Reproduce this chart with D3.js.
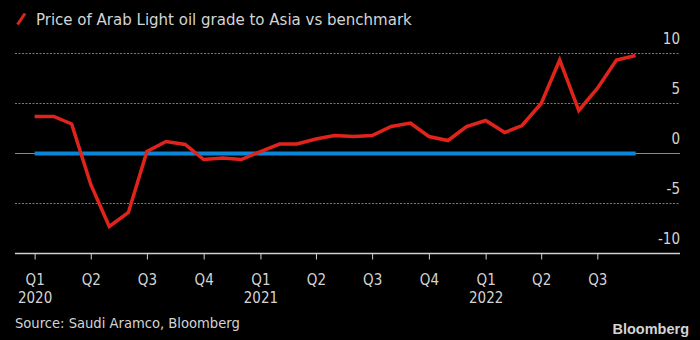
<!DOCTYPE html>
<html>
<head>
<meta charset="utf-8">
<script src="https://cdn.jsdelivr.net/npm/d3@7"></script>
<style>
  body { margin: 0; background: #000; }
  svg { display: block; background: #000; }
  text { font-family: "DejaVu Sans Condensed", "Liberation Sans Narrow", sans-serif; fill: #d4d4d4; }
</style>
</head>
<body>
<script>
// chart data, monthly Jan 2020 - Sep 2022
var months = ["2020-01","2020-02","2020-03","2020-04","2020-05","2020-06","2020-07","2020-08","2020-09","2020-10","2020-11","2020-12",
              "2021-01","2021-02","2021-03","2021-04","2021-05","2021-06","2021-07","2021-08","2021-09","2021-10","2021-11","2021-12",
              "2022-01","2022-02","2022-03","2022-04","2022-05","2022-06","2022-07","2022-08","2022-09"];
var arabLight = [3.7, 3.7, 2.95, -3.1, -7.3, -5.9, 0.2, 1.2, 0.9, -0.6, -0.45, -0.6,
                 0.2, 0.95, 0.95, 1.45, 1.8, 1.7, 1.8, 2.7, 3.05, 1.7, 1.3, 2.7,
                 3.3, 2.1, 2.8, 5.0, 9.35, 4.3, 6.5, 9.35, 9.8];
var benchmark = months.map(function() { return 0; });
var yTicks = [10, 5, 0, -5, -10];
var quarterTicks = ["2020-01","2020-04","2020-07","2020-10","2021-01","2021-04","2021-07","2021-10","2022-01","2022-04","2022-07"];
var title = "Price of Arab Light oil grade to Asia vs benchmark";
var source = "Source: Saudi Aramco, Bloomberg";

var W = 700, H = 340;
var parse = d3.timeParse("%Y-%m");

var svg = d3.select("body").append("svg")
    .attr("width", W)
    .attr("height", H);

var x = d3.scaleTime()
    .domain([new Date(2019, 11, 1), new Date(2022, 10, 12)])
    .range([15.5, 680]);
var y = d3.scaleLinear().domain([-10, 10]).range([253.5, 53.5]);

// gridlines
svg.append("g").selectAll("line")
   .data(yTicks.filter(function(d) { return d != -10; }))
   .enter().append("line")
   .attr("x1", 15).attr("x2", 680)
   .attr("y1", function(d) { return y(d); })
   .attr("y2", function(d) { return y(d); })
   .attr("stroke", function(d) { return d == 0 ? "#8a8a8a" : "#7a7a7a"; })
   .attr("stroke-width", 1)
   .attr("stroke-dasharray", function(d) { return d == 0 ? null : "2,1.5"; });

// y labels, right side above the lines
svg.append("g").selectAll("text")
   .data(yTicks)
   .enter().append("text")
   .attr("x", 680)
   .attr("y", function(d) { return y(d) - 9.5; })
   .attr("text-anchor", "end")
   .style("font-size", "15px")
   .text(function(d) { return d; });

// x axis
var axis_x = d3.axisBottom(x)
    .tickValues(quarterTicks.map(parse))
    .tickSize(6)
    .tickSizeOuter(0)
    .tickFormat(function(d) { return "Q" + (Math.floor(d.getMonth() / 3) + 1); });

var gx = svg.append("g")
   .attr("transform", "translate(0," + y(-10) + ")")
   .call(axis_x);
gx.select(".domain").attr("stroke", "#d0d0d0").attr("stroke-width", 1.5)
  .attr("d", "M15,0H680");
gx.selectAll(".tick line").attr("stroke", "#d0d0d0");
gx.selectAll(".tick text")
  .attr("y", 21)
  .style("font-size", "15px")
  .attr("fill", "#d4d4d4")
  .each(function(d) {
      if (d.getMonth() == 0) {
          d3.select(this).append("tspan")
            .attr("x", 0).attr("dy", "1.2em")
            .text(d.getFullYear());
      }
  });

// lines
var line = d3.line()
    .x(function(d) { return x(d.date); })
    .y(function(d) { return y(d.value); });

function series(vals) {
    return months.map(function(m, i) { return {date: parse(m), value: vals[i]}; });
}

svg.append("path")
   .datum(series(benchmark))
   .attr("fill", "none")
   .attr("stroke", "#0a86d8")
   .attr("stroke-width", 4)
   .attr("d", line);

svg.append("path")
   .datum(series(arabLight))
   .attr("fill", "none")
   .attr("stroke", "#e0241c")
   .attr("stroke-width", 3.5)
   .attr("stroke-linejoin", "miter")
   .attr("d", line);

// title with legend swatch
svg.append("line")
   .attr("x1", 17.5).attr("y1", 24.5)
   .attr("x2", 25).attr("y2", 13.5)
   .attr("stroke", "#e0241c")
   .attr("stroke-width", 3);

svg.append("text")
   .attr("x", 36).attr("y", 25)
   .style("font-size", "16.7px")
   .text(title);

svg.append("text")
   .attr("x", 15).attr("y", 328)
   .style("font-size", "14.6px")
   .attr("fill", "#c8c8c8")
   .text(source);

svg.append("text")
   .attr("x", 689).attr("y", 334)
   .attr("text-anchor", "end")
   .style("font-family", "'Liberation Sans', Arial, sans-serif")
   .style("font-weight", "bold")
   .style("font-size", "14.5px")
   .attr("fill", "#e8e8e8")
   .text("Bloomberg");
</script>
</body>
</html>
